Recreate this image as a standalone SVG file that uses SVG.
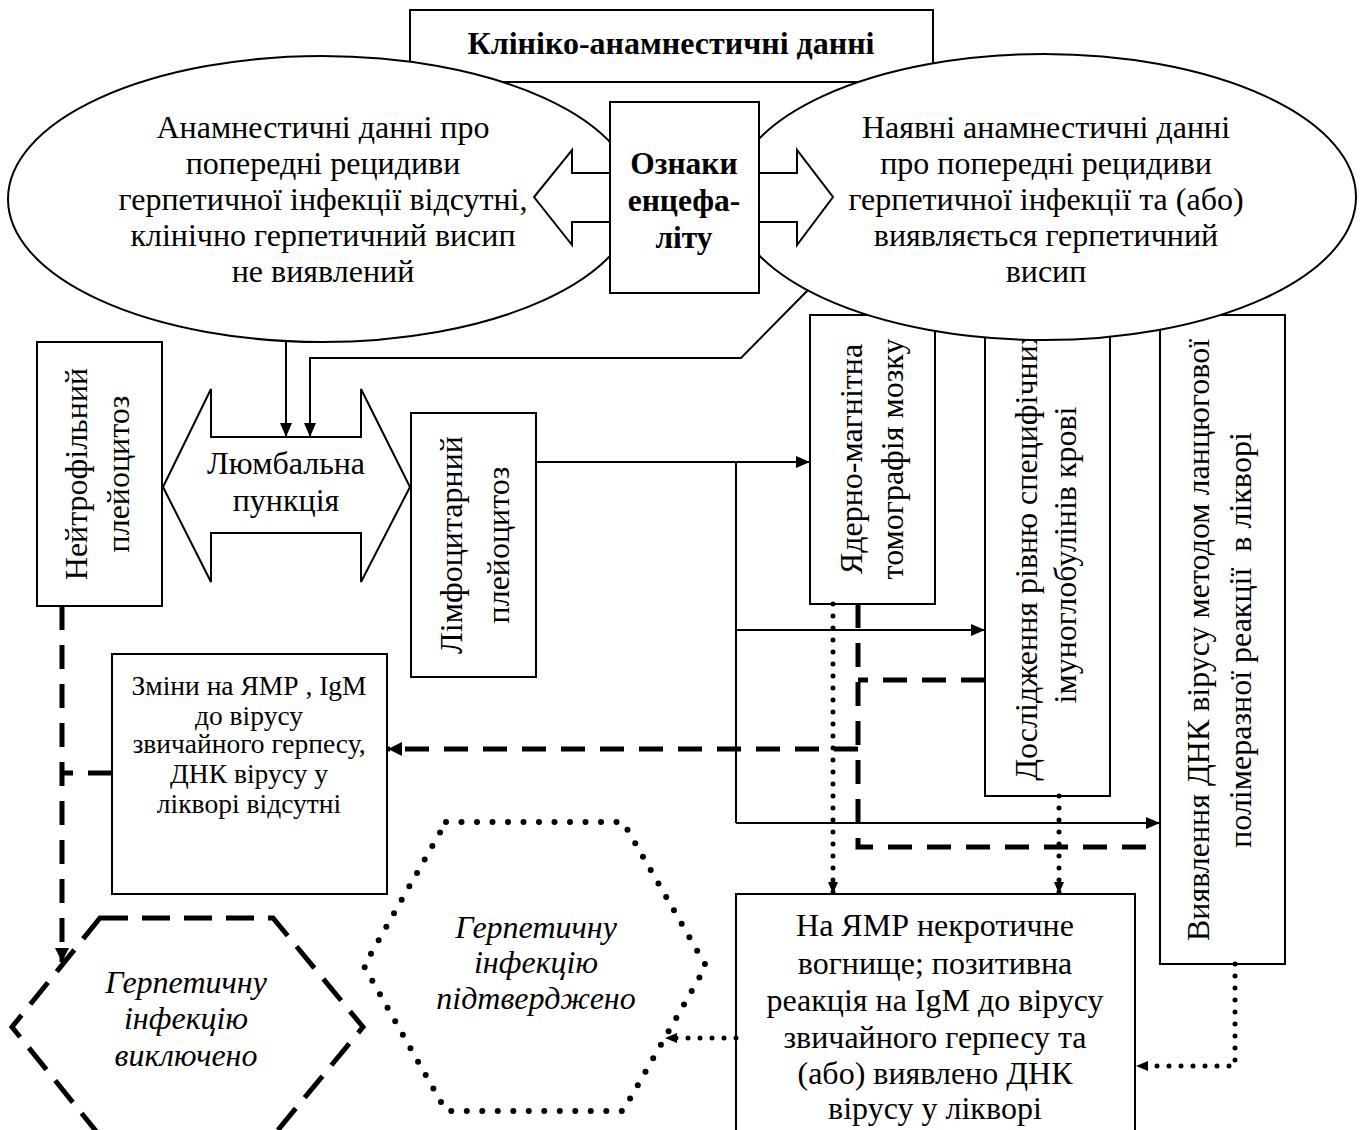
<svg xmlns="http://www.w3.org/2000/svg" width="1366" height="1130" viewBox="0 0 1366 1130">
<style>
.b{fill:#fff;stroke:#000;stroke-width:2}
.t{font-family:"Liberation Serif","Times New Roman",serif;font-size:32px;fill:#000;text-anchor:middle}
.bd{font-weight:bold;font-size:32px}
.bo{font-weight:bold;font-size:31.5px}
.it{font-style:italic}
.sm{font-size:27.5px}
.s{fill:none;stroke:#000;stroke-width:2}
.d{fill:none;stroke:#000;stroke-width:5;stroke-dasharray:24 15}
.dh{fill:#fff;stroke:#000;stroke-width:5;stroke-dasharray:28 14}
.o{fill:none;stroke:#000;stroke-width:5;stroke-dasharray:0 12;stroke-linecap:round}
.oh{fill:#fff;stroke:#000;stroke-width:6;stroke-dasharray:0 15.5;stroke-linecap:round}
</style>
<defs>
<marker id="a" viewBox="0 0 14 12" refX="14" refY="6" markerWidth="14" markerHeight="12" markerUnits="userSpaceOnUse" orient="auto"><path d="M0,0 L14,6 L0,12 z" fill="#000" stroke="none"/></marker>
<marker id="ad" viewBox="0 0 14 14" refX="14" refY="7" markerWidth="14" markerHeight="14" markerUnits="userSpaceOnUse" orient="auto"><path d="M0,0 L14,7 L0,14 z" fill="#000" stroke="none"/></marker>
<marker id="ao" viewBox="0 0 12 10" refX="12" refY="5" markerWidth="12" markerHeight="10" markerUnits="userSpaceOnUse" orient="auto"><path d="M0,0 L12,5 L0,10 z" fill="#000" stroke="none"/></marker>
</defs>
<rect width="1366" height="1130" fill="#fff"/>

<g id="top-box">
<rect class="b" x="410" y="10" width="523" height="72"/>
<text class="t bd" x="671" y="54">Клініко-анамнестичні данні</text>
</g>

<g id="mrt-box">
<rect class="b" x="810" y="315" width="125" height="289"/>
<text class="t" transform="translate(862,459) rotate(-90)">Ядерно-магнітна</text>
<text class="t" transform="translate(903,459) rotate(-90)">томографія мозку</text>
</g>

<g id="igm-box">
<rect class="b" x="985" y="315" width="125" height="481"/>
<text class="t" transform="translate(1037,555) rotate(-90)">Дослідження рівню специфічних</text>
<text class="t" transform="translate(1076,555) rotate(-90)">імуноглобулінів крові</text>
</g>

<g id="pcr-box">
<rect class="b" x="1160" y="315" width="125" height="649"/>
<text class="t" transform="translate(1209,640) rotate(-90)">Виявлення ДНК вірусу методом ланцюгової</text>
<text class="t" transform="translate(1251,640) rotate(-90)" xml:space="preserve">полімеразної реакції  в ліквoрі</text>
</g>

<g id="left-ellipse">
<ellipse class="b" cx="322" cy="199" rx="314" ry="143"/>
<text class="t" x="323" y="138">Анамнестичні данні про</text>
<text class="t" x="323" y="174">попередні рецидиви</text>
<text class="t" x="323" y="210">герпетичної інфекції відсутні,</text>
<text class="t" x="323" y="246">клінічно герпетичний висип</text>
<text class="t" x="323" y="282">не виявлений</text>
</g>

<g id="right-ellipse">
<ellipse class="b" cx="1044" cy="197" rx="312" ry="143"/>
<text class="t" x="1046" y="138">Наявні анамнестичні данні</text>
<text class="t" x="1046" y="174">про попередні рецидиви</text>
<text class="t" x="1046" y="210">герпетичної інфекції та (або)</text>
<text class="t" x="1046" y="246">виявляється герпетичний</text>
<text class="t" x="1046" y="282">висип</text>
</g>

<g id="encephalitis">
<polygon class="b" points="611,173 572,173 572,150 534,197 572,245 572,222 611,222"/>
<polygon class="b" points="757,173 797,173 797,150 833,197 797,245 797,222 757,222"/>
<rect class="b" x="610" y="102" width="149" height="191"/>
<text class="t bo" x="684" y="174">Ознаки</text>
<text class="t bo" x="684" y="211">енцефа-</text>
<text class="t bo" x="684" y="248">літу</text>
</g>

<g id="neutro-box">
<rect class="b" x="37" y="342" width="125" height="264"/>
<text class="t" transform="translate(87,474) rotate(-90)">Нейтрофільний</text>
<text class="t" transform="translate(129,474) rotate(-90)">плейоцитоз</text>
</g>

<g id="lumbar">
<polygon class="b" points="163,487 211,389 211,437 361,437 361,389 410,487 361,582 361,533 211,533 211,582"/>
<text class="t" x="286" y="474">Люмбальна</text>
<text class="t" x="286" y="511">пункція</text>
</g>

<g id="lympho-box">
<rect class="b" x="411" y="413" width="125" height="264"/>
<text class="t" transform="translate(462,545) rotate(-90)">Лімфоцитарний</text>
<text class="t" transform="translate(509,545) rotate(-90)">плейоцитоз</text>
</g>

<g id="changes-box">
<rect class="b" x="112" y="654" width="275" height="240"/>
<text class="t sm" x="249" y="695">Зміни на ЯМР , IgM</text>
<text class="t sm" x="249" y="725">до вірусу</text>
<text class="t sm" x="249" y="753">звичайного герпесу,</text>
<text class="t sm" x="249" y="783">ДНК вірусу у</text>
<text class="t sm" x="249" y="813">ліквoрі відсутні</text>
</g>

<g id="positive-box">
<rect class="b" x="736" y="894" width="399" height="250"/>
<text class="t" x="935" y="936">На ЯМР некротичне</text>
<text class="t" x="935" y="974">вогнище; позитивна</text>
<text class="t" x="935" y="1011">реакція на IgM до вірусу</text>
<text class="t" x="935" y="1048">звичайного герпесу та</text>
<text class="t" x="935" y="1084">(або) виявлено ДНК</text>
<text class="t" x="935" y="1119">вірусу у ліквoрі</text>
</g>

<g id="excluded">
<polygon class="dh" points="100,918 273,918 363,1027 273,1136 100,1136 12,1027"/>
<text class="t it" x="186" y="993">Герпетичну</text>
<text class="t it" x="186" y="1029">інфекцію</text>
<text class="t it" x="186" y="1066">виключено</text>
</g>

<g id="confirmed">
<polygon class="oh" points="446,822 623,822 706,966 623,1111 446,1111 364,966"/>
<text class="t it" x="536" y="938">Герпетичну</text>
<text class="t it" x="536" y="973">інфекцію</text>
<text class="t it" x="536" y="1009">підтверджено</text>
</g>

<g id="connectors">
<path class="s" d="M286,342 V437" marker-end="url(#a)"/>
<path class="s" d="M808,290 L741,358 H310 V437" marker-end="url(#a)"/>
<path class="s" d="M536,462 H810" marker-end="url(#a)"/>
<path class="s" d="M736,462 V823"/>
<path class="s" d="M736,630 H985" marker-end="url(#a)"/>
<path class="s" d="M736,823 H1160" marker-end="url(#a)"/>
<path class="d" d="M858,604 V847 H1160"/>
<path class="d" d="M985,680 H858"/>
<path class="d" d="M858,749 H388" marker-end="url(#ad)"/>
<path class="d" d="M62,606 V962" marker-end="url(#ad)"/>
<path class="d" d="M112,773 H62"/>
<path class="o" d="M833,604 V894" marker-end="url(#ao)"/>
<path class="o" d="M1059,796 V894" marker-end="url(#ao)"/>
<path class="o" d="M1235,964 V1066 H1136" marker-end="url(#ao)"/>
<path class="o" d="M736,1038 H665" marker-end="url(#ao)"/>
</g>
</svg>
